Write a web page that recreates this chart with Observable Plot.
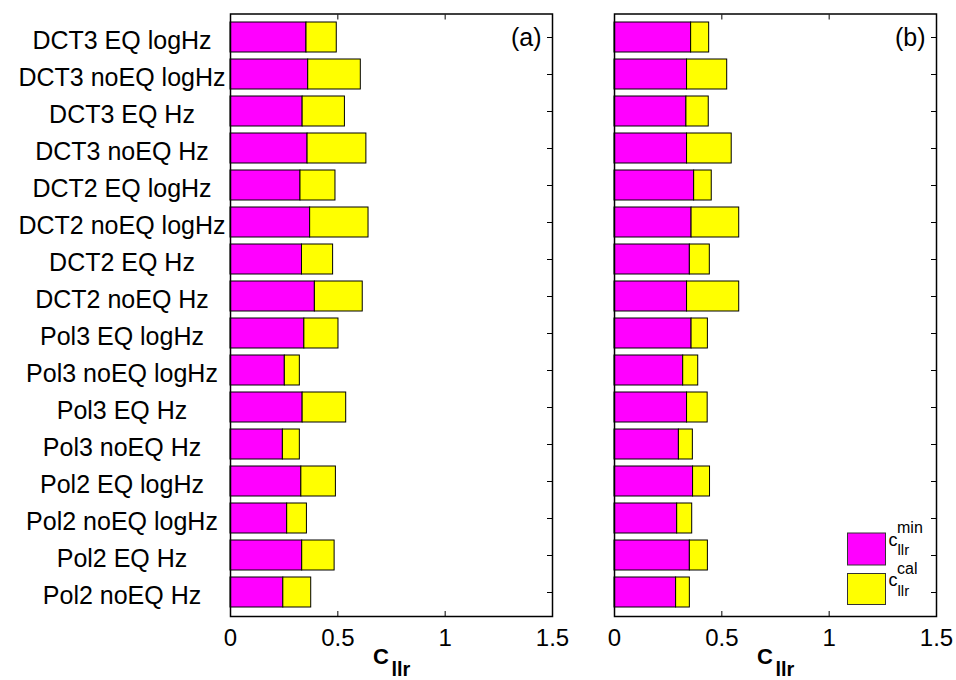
<!DOCTYPE html>
<html>
<head>
<meta charset="utf-8">
<script src="https://cdn.jsdelivr.net/npm/d3@7"></script>
<script src="https://cdn.jsdelivr.net/npm/@observablehq/plot@0.6"></script>
<style>
  html, body { margin: 0; padding: 0; background: #fff; }
  #chart { position: relative; width: 956px; height: 680px; }
</style>
</head>
<body>
<div id="chart"></div>
<script>
// Feature configurations, top to bottom
const labels = [
  "DCT3 EQ logHz", "DCT3 noEQ logHz", "DCT3 EQ Hz", "DCT3 noEQ Hz",
  "DCT2 EQ logHz", "DCT2 noEQ logHz", "DCT2 EQ Hz", "DCT2 noEQ Hz",
  "Pol3 EQ logHz", "Pol3 noEQ logHz", "Pol3 EQ Hz", "Pol3 noEQ Hz",
  "Pol2 EQ logHz", "Pol2 noEQ logHz", "Pol2 EQ Hz", "Pol2 noEQ Hz"
];
const panels = ["a", "b"];

// Panel (a): minimum Cllr and calibration loss
const minA = [0.354, 0.362, 0.336, 0.359, 0.326, 0.371, 0.333, 0.393,
              0.344, 0.253, 0.336, 0.244, 0.330, 0.264, 0.334, 0.246];
const calA = [0.141, 0.245, 0.197, 0.274, 0.163, 0.272, 0.145, 0.223,
              0.159, 0.070, 0.203, 0.079, 0.161, 0.092, 0.151, 0.130];

// Panel (b): minimum Cllr and calibration loss
const minB = [0.357, 0.338, 0.335, 0.338, 0.371, 0.359, 0.351, 0.338,
              0.359, 0.320, 0.338, 0.300, 0.366, 0.292, 0.351, 0.287];
const calB = [0.084, 0.187, 0.104, 0.208, 0.082, 0.222, 0.093, 0.243,
              0.076, 0.070, 0.096, 0.065, 0.079, 0.070, 0.084, 0.064];

const xTicks = [0, 0.5, 1, 1.5];
const parts = ["min", "cal"];
const partColors = ["#ff00ff", "#ffff00"];

// Long table: one row per stacked segment (min first, then cal on top)
const rows = [];
[["a", minA, calA], ["b", minB, calB]].forEach(([panel, mins, cals]) => {
  labels.forEach((label, i) => {
    rows.push({panel, label, part: "min", value: mins[i]});
    rows.push({panel, label, part: "cal", value: cals[i]});
  });
});

const font = "'Liberation Sans', Arial, Helvetica, sans-serif";

const chart = Plot.plot({
  width: 956,
  height: 680,
  marginLeft: 229.5,
  marginRight: 20,
  marginTop: 13.5,
  marginBottom: 64,
  style: {fontFamily: font, fontSize: "24px", color: "black", background: "white", overflow: "visible"},
  fx: {domain: panels, axis: null, paddingInner: 0.1616, paddingOuter: 0},
  x: {domain: [0, 1.5]},
  y: {domain: labels, paddingInner: 0.19, paddingOuter: 0.07},
  color: {domain: parts, range: partColors},
  marks: [
    Plot.barX(rows, Plot.stackX({
      fx: "panel", y: "label", x: "value", fill: "part",
      stroke: "black", strokeWidth: 1
    })),
    // category names, centred in the left margin
    Plot.axisY({anchor: "left", tickSize: 0, tickPadding: 0, textAnchor: "middle",
                dx: -108.5, dy: 3, fontSize: 25, label: null}),
    // inward ticks on the right edge of each panel
    Plot.axisY({anchor: "right", tickSize: -6, tickFormat: () => "", facetAnchor: null, label: null}),
    // x tick labels and inward ticks
    Plot.axisX(xTicks, {anchor: "bottom", tickSize: 0, tickPadding: 12,
                        tickFormat: d3.format("~g"), label: null}),
    Plot.axisX([0.5, 1], {anchor: "bottom", tickSize: -5, tickFormat: () => "", label: null}),
    Plot.axisX([0.5, 1], {anchor: "top", tickSize: -5, tickFormat: () => "", label: null}),
    Plot.frame({stroke: "black", strokeWidth: 1.5}),
    // panel tags
    Plot.text(panels, {fx: d => d, text: d => `(${d})`, frameAnchor: "top-right",
                       textAnchor: "end", lineAnchor: "bottom", dx: -11, dy: 32, fontSize: 25}),
    // x-axis title C_llr under each panel
    Plot.text(["C"], {text: d => d, frameAnchor: "bottom", textAnchor: "end", lineAnchor: "bottom",
                      dx: -2.5, dy: 47, fontWeight: "bold", fontSize: 22}),
    Plot.text(["llr"], {text: d => d, frameAnchor: "bottom", textAnchor: "start", lineAnchor: "bottom",
                        dx: 0, dy: 59, fontWeight: "bold", fontSize: 20})
  ]
});

document.getElementById("chart").appendChild(chart);

// Legend in the lower-right corner of panel (b)
const svg = d3.select(chart.tagName.toLowerCase() === "svg" ? chart : chart.querySelector("svg"));
const legend = svg.append("g")
  .attr("font-family", font)
  .attr("text-anchor", "start")
  .attr("fill", "black");
const entries = [
  {part: "min", color: partColors[0], top: 533, h: 32, base: 545.5},
  {part: "cal", color: partColors[1], top: 573.5, h: 31, base: 586}
];
entries.forEach(e => {
  legend.append("rect")
    .attr("x", 847.5).attr("y", e.top).attr("width", 38).attr("height", e.h)
    .attr("fill", e.color).attr("stroke", "#333").attr("stroke-width", 1);
  legend.append("text").attr("x", 888.5).attr("y", e.base).attr("font-size", 18).text("c");
  legend.append("text").attr("x", 897).attr("y", e.base - 12.5).attr("font-size", 16).text(e.part);
  legend.append("text").attr("x", 897.5).attr("y", e.base + 9.5).attr("font-size", 15).text("llr");
});
</script>
</body>
</html>
